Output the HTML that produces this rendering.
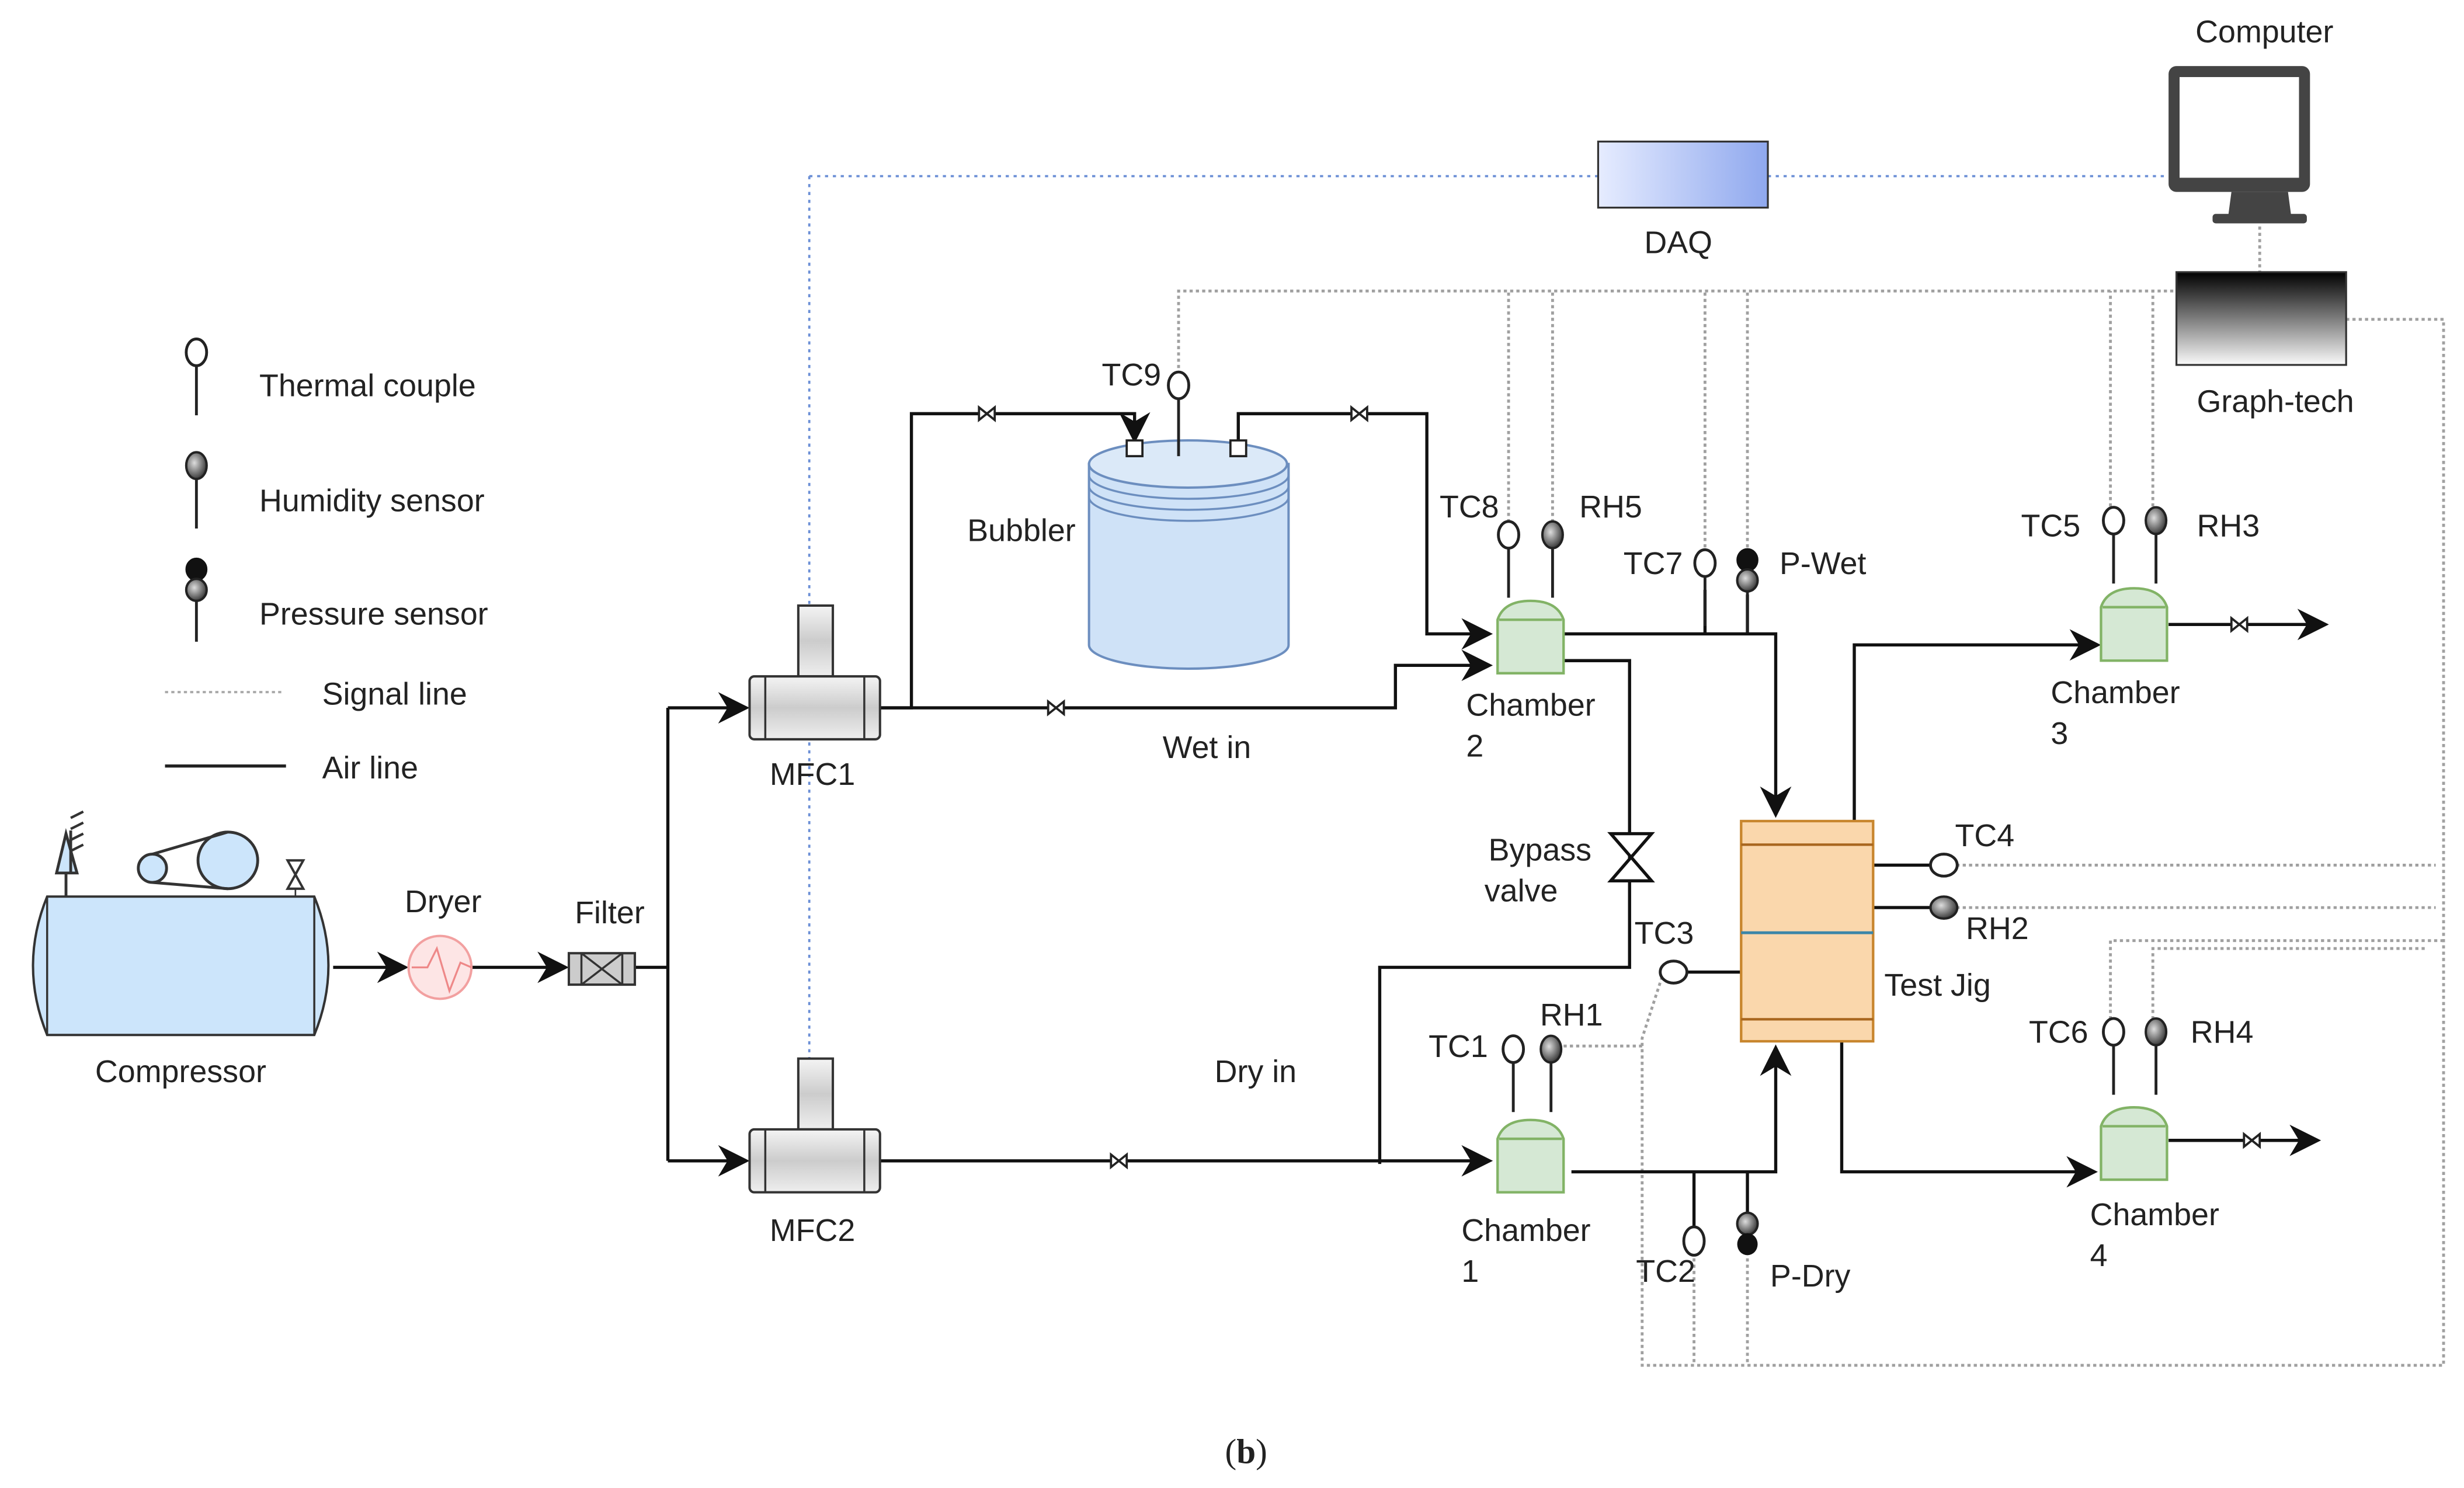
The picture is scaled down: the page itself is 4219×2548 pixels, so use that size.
<!DOCTYPE html>
<html><head><meta charset="utf-8">
<style>
html,body{margin:0;padding:0;background:#fff;}
svg{display:block;}
text{font-family:"Liberation Sans","DejaVu Sans",sans-serif;font-size:20px;fill:#222;}
</style></head>
<body>
<svg width="4219" height="2548" viewBox="0 0 1568 946" preserveAspectRatio="none" xmlns="http://www.w3.org/2000/svg">
<defs>
<marker id="arb" viewBox="0 0 10 10" refX="9" refY="5" markerWidth="20" markerHeight="20" markerUnits="userSpaceOnUse" orient="auto"><path d="M0,0 L10,5 L0,10 L3,5z" fill="#111"/></marker>
<radialGradient id="hum" cx="0.4" cy="0.4" r="0.7"><stop offset="0" stop-color="#ddd"/><stop offset="1" stop-color="#222"/></radialGradient>
<linearGradient id="daq" x1="0" y1="0" x2="1" y2="0"><stop offset="0" stop-color="#e6ecff"/><stop offset="1" stop-color="#8fa8ee"/></linearGradient>
<linearGradient id="gt" x1="0" y1="0" x2="0" y2="1"><stop offset="0" stop-color="#000"/><stop offset="1" stop-color="#fafafa"/></linearGradient>
<linearGradient id="mfc" x1="0" y1="0" x2="0" y2="1"><stop offset="0" stop-color="#f4f4f4"/><stop offset="0.5" stop-color="#ccc"/><stop offset="1" stop-color="#eee"/></linearGradient>
<g id="tc"><line x1="0" y1="8" x2="0" y2="40" stroke="#222" stroke-width="1.8"/><ellipse cx="0" cy="0" rx="6.5" ry="8.5" fill="#fff" stroke="#222" stroke-width="1.8"/></g>
<g id="rh"><line x1="0" y1="8" x2="0" y2="40" stroke="#222" stroke-width="1.8"/><ellipse cx="0" cy="0" rx="6.5" ry="8.5" fill="url(#hum)" stroke="#222" stroke-width="1.5"/></g>
<g id="pr"><line x1="0" y1="8" x2="0" y2="40" stroke="#222" stroke-width="1.8"/><ellipse cx="0" cy="-6" rx="6.5" ry="7" fill="#111" stroke="#111"/><ellipse cx="0" cy="7" rx="6.5" ry="7" fill="url(#hum)" stroke="#222" stroke-width="1.5"/></g>
<g id="ch"><path d="M0,14 Q4,2 21,2 Q38,2 42,14 L42,48 L0,48z" fill="#d5e8d4" stroke="#82b366" stroke-width="1.6"/><line x1="1" y1="14" x2="41" y2="14" stroke="#82b366" stroke-width="1.6"/></g>
<g id="sv"><path d="M-5,-4 L5,4 L5,-4 L-5,4z" fill="#fff" stroke="#222" stroke-width="1.4"/></g>
<g id="mfcg"><rect x="31" y="-45" width="22" height="45" fill="url(#mfc)" stroke="#333" stroke-width="1.5"/><rect x="0" y="0" width="83" height="40" rx="3" fill="url(#mfc)" stroke="#333" stroke-width="1.5"/><line x1="10" y1="0" x2="10" y2="40" stroke="#333" stroke-width="1.3"/><line x1="73" y1="0" x2="73" y2="40" stroke="#333" stroke-width="1.3"/></g>
</defs>

<g fill="none" stroke="#6b8fd6" stroke-width="1.4" stroke-dasharray="2,3">
<path d="M515,112 L1017,112 M1125,112 L1380,112 M515,112 L515,736"/>
</g>
<g fill="none" stroke="#a0a0a0" stroke-width="1.8" stroke-dasharray="2,2">
<path d="M1438,140 L1438,173"/>
<path d="M750,238 L750,185 L1385,185"/>
<path d="M960,332 L960,185 M988,332 L988,185 M1085,348 L1085,185 M1112,348 L1112,185 M1343,322 L1343,185 M1370,322 L1370,185"/>
<path d="M1493,203 L1555,203 L1555,868 L1045,868 L1045,660 L1058,620"/>
<path d="M1245,550 L1550,550 M1245,577 L1550,577"/>
<path d="M1343,648 L1343,598 L1555,598 M1370,648 L1370,603 L1545,603"/>
<path d="M995,665 L1045,665"/>
<path d="M1078,800 L1078,868 M1112,800 L1112,868"/>
</g>

<use href="#tc" x="125" y="224"/>
<use href="#rh" x="125" y="296"/>
<use href="#pr" x="125" y="368"/>
<line x1="105" y1="440" x2="180" y2="440" stroke="#aaa" stroke-width="1.5" stroke-dasharray="2,2"/>
<line x1="105" y1="487" x2="182" y2="487" stroke="#222" stroke-width="2"/>
<text x="165" y="252">Thermal couple</text>
<text x="165" y="325">Humidity sensor</text>
<text x="165" y="397">Pressure sensor</text>
<text x="205" y="448">Signal line</text>
<text x="205" y="495">Air line</text>

<rect x="1380" y="42" width="90" height="80" rx="5" fill="#444"/>
<rect x="1387" y="49" width="76" height="64" fill="#fff"/>
<path d="M1420,122 L1456,122 L1458,137 L1418,137z" fill="#444"/>
<rect x="1408" y="136" width="60" height="6" rx="2" fill="#444"/>
<text x="1441" y="27" text-anchor="middle">Computer</text>
<rect x="1385" y="173" width="108" height="59" fill="url(#gt)" stroke="#333" stroke-width="1.2"/>
<text x="1448" y="262" text-anchor="middle">Graph-tech</text>
<rect x="1017" y="90" width="108" height="42" fill="url(#daq)" stroke="#333" stroke-width="1.2"/>
<text x="1068" y="161" text-anchor="middle">DAQ</text>

<g fill="none" stroke="#111" stroke-width="2">
<path d="M212,615 L258,615" marker-end="url(#arb)"/>
<path d="M300,615 L360,615" marker-end="url(#arb)"/>
<path d="M404,615 L425,615"/>
<path d="M425,450 L425,738"/>
<path d="M425,450 L475,450" marker-end="url(#arb)"/>
<path d="M425,738 L475,738" marker-end="url(#arb)"/>
<path d="M560,450 L580,450 L580,263 L722,263 L722,280" marker-end="url(#arb)"/>
<path d="M560,450 L888,450 L888,423 L948,423" marker-end="url(#arb)"/>
<path d="M788,284 L788,263 L908,263 L908,403 L948,403" marker-end="url(#arb)"/>
<path d="M560,738 L948,738" marker-end="url(#arb)"/>
<path d="M995,403 L1130,403 L1130,518" marker-end="url(#arb)"/>
<path d="M995,420 L1037,420 L1037,615 L878,615 L878,740"/>
<path d="M1000,745 L1130,745 L1130,666" marker-end="url(#arb)"/>
<path d="M1180,522 L1180,410 L1335,410" marker-end="url(#arb)"/>
<path d="M1172,662 L1172,745 L1333,745" marker-end="url(#arb)"/>
<path d="M1380,397 L1480,397" marker-end="url(#arb)"/>
<path d="M1380,725 L1475,725" marker-end="url(#arb)"/>
<path d="M1192,550 L1230,550 M1192,577 L1230,577 M1072,618 L1108,618"/>
<path d="M1085,403 L1085,375 M1112,403 L1112,378 M1078,745 L1078,780 M1112,745 L1112,778"/>
</g>
<use href="#sv" x="628" y="263"/><use href="#sv" x="865" y="263"/><use href="#sv" x="672" y="450"/><use href="#sv" x="712" y="738"/><use href="#sv" x="1425" y="397"/><use href="#sv" x="1433" y="725"/>
<path d="M1025,530 L1051,530 L1025,560 L1051,560z" fill="#fff" stroke="#111" stroke-width="2"/>

<path d="M30,570 L200,570 Q218,614 200,658 L30,658 Q12,614 30,570z" fill="#cce5fb" stroke="#333" stroke-width="1.5"/>
<line x1="30" y1="570" x2="30" y2="658" stroke="#333" stroke-width="1.3"/>
<line x1="200" y1="570" x2="200" y2="658" stroke="#333" stroke-width="1.3"/>
<path d="M42,570 L42,555 M36,555 L49,555 L42,530z M45,528 L45,555" fill="#cce5fb" stroke="#333" stroke-width="1.8"/>
<path d="M45,520 l8,-4 M45,527 l8,-4 M45,534 l8,-4 M45,541 l8,-4" stroke="#333" stroke-width="1.6"/>
<circle cx="97" cy="552" r="9" fill="#cce5fb" stroke="#333" stroke-width="1.8"/>
<ellipse cx="145" cy="547" rx="19" ry="18" fill="#cce5fb" stroke="#333" stroke-width="1.8"/>
<path d="M97,543 L145,529 M97,561 L145,565" stroke="#333" stroke-width="1.8"/>
<path d="M183,547 L193,547 L183,565 L193,565z" fill="#fff" stroke="#333" stroke-width="1.5"/><line x1="188" y1="565" x2="188" y2="570" stroke="#333"/>
<text x="115" y="688" text-anchor="middle">Compressor</text>
<circle cx="280" cy="615" r="20" fill="#fde5e5" stroke="#f2a0a0" stroke-width="1.5"/>
<path d="M262,615 L272,615 L278,603 L286,630 L293,612 L300,615" fill="none" stroke="#e88" stroke-width="1.2"/>
<text x="282" y="580" text-anchor="middle">Dryer</text>
<rect x="362" y="606" width="42" height="20" fill="#ccc" stroke="#333" stroke-width="1.5"/>
<path d="M370,606 L370,626 M396,606 L396,626 M370,606 L396,626 M396,606 L370,626" stroke="#333" stroke-width="1.3"/>
<text x="388" y="587" text-anchor="middle">Filter</text>

<use href="#mfcg" x="477" y="430"/>
<use href="#mfcg" x="477" y="718"/>
<text x="517" y="499" text-anchor="middle">MFC1</text>
<text x="517" y="789" text-anchor="middle">MFC2</text>

<path d="M693,295 L693,410 A63,15 0 0 0 820,410 L820,295z" fill="#cfe2f7" stroke="#6c8ebf" stroke-width="1.5"/>
<ellipse cx="756" cy="295" rx="63" ry="15" fill="#dbe9f8" stroke="#6c8ebf" stroke-width="1.5"/>
<path d="M693,302 A63,15 0 0 0 820,302 M693,309 A63,15 0 0 0 820,309 M693,316 A63,15 0 0 0 820,316" fill="none" stroke="#6c8ebf" stroke-width="1.3"/>
<rect x="717" y="280" width="10" height="10" fill="#fff" stroke="#222" stroke-width="1.4"/>
<rect x="783" y="280" width="10" height="10" fill="#fff" stroke="#222" stroke-width="1.4"/>
<line x1="750" y1="290" x2="750" y2="254" stroke="#222" stroke-width="1.8"/>
<ellipse cx="750" cy="245" rx="6.5" ry="8.5" fill="#fff" stroke="#222" stroke-width="1.8"/>
<text x="720" y="245" text-anchor="middle">TC9</text>
<text x="650" y="344" text-anchor="middle">Bubbler</text>

<use href="#ch" x="953" y="380"/>
<use href="#ch" x="953" y="710"/>
<use href="#ch" x="1337" y="372"/>
<use href="#ch" x="1337" y="702"/>
<text x="933" y="455">Chamber</text><text x="933" y="481">2</text>
<text x="930" y="789">Chamber</text><text x="930" y="815">1</text>
<text x="1305" y="447">Chamber</text><text x="1305" y="473">3</text>
<text x="1330" y="779">Chamber</text><text x="1330" y="805">4</text>

<use href="#tc" x="960" y="340"/><use href="#rh" x="988" y="340"/>
<text x="935" y="329" text-anchor="middle">TC8</text><text x="1025" y="329" text-anchor="middle">RH5</text>
<use href="#tc" x="1085" y="358"/><use href="#pr" x="1112" y="362"/>
<text x="1052" y="365" text-anchor="middle">TC7</text><text x="1160" y="365" text-anchor="middle">P-Wet</text>
<use href="#tc" x="963" y="667"/><use href="#rh" x="987" y="667"/>
<text x="928" y="672" text-anchor="middle">TC1</text><text x="1000" y="652" text-anchor="middle">RH1</text>
<use href="#tc" x="1345" y="331"/><use href="#rh" x="1372" y="331"/>
<text x="1305" y="341" text-anchor="middle">TC5</text><text x="1418" y="341" text-anchor="middle">RH3</text>
<use href="#tc" x="1345" y="656"/><use href="#rh" x="1372" y="656"/>
<text x="1310" y="663" text-anchor="middle">TC6</text><text x="1414" y="663" text-anchor="middle">RH4</text>
<ellipse cx="1078" cy="789" rx="6.5" ry="9" fill="#fff" stroke="#222" stroke-width="1.8"/>
<ellipse cx="1112" cy="778" rx="6.5" ry="7" fill="url(#hum)" stroke="#222" stroke-width="1.5"/>
<ellipse cx="1112" cy="791" rx="6.5" ry="7" fill="#111"/>
<text x="1060" y="815" text-anchor="middle">TC2</text><text x="1152" y="818" text-anchor="middle">P-Dry</text>
<ellipse cx="1065" cy="618" rx="8.5" ry="7" fill="#fff" stroke="#222" stroke-width="1.8"/>
<text x="1059" y="600" text-anchor="middle">TC3</text>
<ellipse cx="1237" cy="550" rx="8.5" ry="7" fill="#fff" stroke="#222" stroke-width="1.8"/>
<ellipse cx="1237" cy="577" rx="8.5" ry="7" fill="url(#hum)" stroke="#222" stroke-width="1.5"/>
<text x="1263" y="538" text-anchor="middle">TC4</text><text x="1271" y="597" text-anchor="middle">RH2</text>

<rect x="1108" y="522" width="84" height="140" fill="#fad7ac" stroke="#c8862e" stroke-width="1.6"/>
<line x1="1108" y1="537" x2="1192" y2="537" stroke="#a8661e" stroke-width="1.6"/>
<line x1="1108" y1="648" x2="1192" y2="648" stroke="#a8661e" stroke-width="1.6"/>
<line x1="1108" y1="593" x2="1192" y2="593" stroke="#3b86a8" stroke-width="1.8"/>
<text x="1233" y="633" text-anchor="middle">Test Jig</text>

<text x="980" y="547" text-anchor="middle">Bypass</text>
<text x="968" y="573" text-anchor="middle">valve</text>
<text x="768" y="482" text-anchor="middle">Wet in</text>
<text x="799" y="688" text-anchor="middle">Dry in</text>
<text x="793" y="930" text-anchor="middle" style="font-family:'Liberation Serif',serif;font-size:22px;"><tspan>(</tspan><tspan font-weight="bold">b</tspan><tspan>)</tspan></text>
</svg>
</body></html>
